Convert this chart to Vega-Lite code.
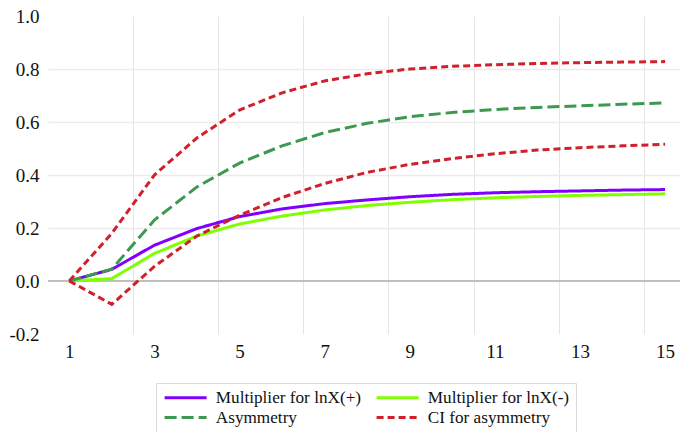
{
  "$schema": "https://vega.github.io/schema/vega-lite/v6.json",
  "width": 632,
  "height": 318,
  "autosize": {"type": "none"},
  "padding": {"left": 48, "top": 16, "right": 0, "bottom": 98},
  "background": "white",
  "config": {
    "view": {"stroke": null},
    "font": "Liberation Serif, Times New Roman, serif",
    "axis": {"labelFont": "Liberation Serif, Times New Roman, serif", "labelColor": "#111111"},
    "legend": {"labelFont": "Liberation Serif, Times New Roman, serif", "labelColor": "#111111"}
  },
  "data": {
    "values": [
      {"x": 1, "v": 0, "s": "Multiplier for lnX(+)", "g": "P"},
      {"x": 2, "v": 0.044, "s": "Multiplier for lnX(+)", "g": "P"},
      {"x": 3, "v": 0.135, "s": "Multiplier for lnX(+)", "g": "P"},
      {"x": 4, "v": 0.198, "s": "Multiplier for lnX(+)", "g": "P"},
      {"x": 5, "v": 0.243, "s": "Multiplier for lnX(+)", "g": "P"},
      {"x": 6, "v": 0.272, "s": "Multiplier for lnX(+)", "g": "P"},
      {"x": 7, "v": 0.292, "s": "Multiplier for lnX(+)", "g": "P"},
      {"x": 8, "v": 0.306, "s": "Multiplier for lnX(+)", "g": "P"},
      {"x": 9, "v": 0.318, "s": "Multiplier for lnX(+)", "g": "P"},
      {"x": 10, "v": 0.327, "s": "Multiplier for lnX(+)", "g": "P"},
      {"x": 11, "v": 0.333, "s": "Multiplier for lnX(+)", "g": "P"},
      {"x": 12, "v": 0.337, "s": "Multiplier for lnX(+)", "g": "P"},
      {"x": 13, "v": 0.340, "s": "Multiplier for lnX(+)", "g": "P"},
      {"x": 14, "v": 0.343, "s": "Multiplier for lnX(+)", "g": "P"},
      {"x": 15, "v": 0.345, "s": "Multiplier for lnX(+)", "g": "P"},
      {"x": 1, "v": 0, "s": "Multiplier for lnX(-)", "g": "L"},
      {"x": 2, "v": 0.009, "s": "Multiplier for lnX(-)", "g": "L"},
      {"x": 3, "v": 0.104, "s": "Multiplier for lnX(-)", "g": "L"},
      {"x": 4, "v": 0.170, "s": "Multiplier for lnX(-)", "g": "L"},
      {"x": 5, "v": 0.215, "s": "Multiplier for lnX(-)", "g": "L"},
      {"x": 6, "v": 0.245, "s": "Multiplier for lnX(-)", "g": "L"},
      {"x": 7, "v": 0.268, "s": "Multiplier for lnX(-)", "g": "L"},
      {"x": 8, "v": 0.285, "s": "Multiplier for lnX(-)", "g": "L"},
      {"x": 9, "v": 0.297, "s": "Multiplier for lnX(-)", "g": "L"},
      {"x": 10, "v": 0.307, "s": "Multiplier for lnX(-)", "g": "L"},
      {"x": 11, "v": 0.314, "s": "Multiplier for lnX(-)", "g": "L"},
      {"x": 12, "v": 0.319, "s": "Multiplier for lnX(-)", "g": "L"},
      {"x": 13, "v": 0.323, "s": "Multiplier for lnX(-)", "g": "L"},
      {"x": 14, "v": 0.326, "s": "Multiplier for lnX(-)", "g": "L"},
      {"x": 15, "v": 0.329, "s": "Multiplier for lnX(-)", "g": "L"},
      {"x": 1, "v": 0, "s": "Asymmetry", "g": "A"},
      {"x": 2, "v": 0.045, "s": "Asymmetry", "g": "A"},
      {"x": 3, "v": 0.230, "s": "Asymmetry", "g": "A"},
      {"x": 4, "v": 0.355, "s": "Asymmetry", "g": "A"},
      {"x": 5, "v": 0.445, "s": "Asymmetry", "g": "A"},
      {"x": 6, "v": 0.510, "s": "Asymmetry", "g": "A"},
      {"x": 7, "v": 0.560, "s": "Asymmetry", "g": "A"},
      {"x": 8, "v": 0.595, "s": "Asymmetry", "g": "A"},
      {"x": 9, "v": 0.620, "s": "Asymmetry", "g": "A"},
      {"x": 10, "v": 0.636, "s": "Asymmetry", "g": "A"},
      {"x": 11, "v": 0.647, "s": "Asymmetry", "g": "A"},
      {"x": 12, "v": 0.655, "s": "Asymmetry", "g": "A"},
      {"x": 13, "v": 0.661, "s": "Asymmetry", "g": "A"},
      {"x": 14, "v": 0.667, "s": "Asymmetry", "g": "A"},
      {"x": 15, "v": 0.672, "s": "Asymmetry", "g": "A"},
      {"x": 1, "v": 0, "s": "CI for asymmetry", "g": "U"},
      {"x": 2, "v": 0.180, "s": "CI for asymmetry", "g": "U"},
      {"x": 3, "v": 0.400, "s": "CI for asymmetry", "g": "U"},
      {"x": 4, "v": 0.540, "s": "CI for asymmetry", "g": "U"},
      {"x": 5, "v": 0.645, "s": "CI for asymmetry", "g": "U"},
      {"x": 6, "v": 0.710, "s": "CI for asymmetry", "g": "U"},
      {"x": 7, "v": 0.755, "s": "CI for asymmetry", "g": "U"},
      {"x": 8, "v": 0.782, "s": "CI for asymmetry", "g": "U"},
      {"x": 9, "v": 0.800, "s": "CI for asymmetry", "g": "U"},
      {"x": 10, "v": 0.810, "s": "CI for asymmetry", "g": "U"},
      {"x": 11, "v": 0.816, "s": "CI for asymmetry", "g": "U"},
      {"x": 12, "v": 0.821, "s": "CI for asymmetry", "g": "U"},
      {"x": 13, "v": 0.824, "s": "CI for asymmetry", "g": "U"},
      {"x": 14, "v": 0.826, "s": "CI for asymmetry", "g": "U"},
      {"x": 15, "v": 0.828, "s": "CI for asymmetry", "g": "U"},
      {"x": 1, "v": 0, "s": "CI for asymmetry", "g": "D"},
      {"x": 2, "v": -0.088, "s": "CI for asymmetry", "g": "D"},
      {"x": 3, "v": 0.055, "s": "CI for asymmetry", "g": "D"},
      {"x": 4, "v": 0.170, "s": "CI for asymmetry", "g": "D"},
      {"x": 5, "v": 0.248, "s": "CI for asymmetry", "g": "D"},
      {"x": 6, "v": 0.315, "s": "CI for asymmetry", "g": "D"},
      {"x": 7, "v": 0.368, "s": "CI for asymmetry", "g": "D"},
      {"x": 8, "v": 0.410, "s": "CI for asymmetry", "g": "D"},
      {"x": 9, "v": 0.440, "s": "CI for asymmetry", "g": "D"},
      {"x": 10, "v": 0.462, "s": "CI for asymmetry", "g": "D"},
      {"x": 11, "v": 0.480, "s": "CI for asymmetry", "g": "D"},
      {"x": 12, "v": 0.494, "s": "CI for asymmetry", "g": "D"},
      {"x": 13, "v": 0.503, "s": "CI for asymmetry", "g": "D"},
      {"x": 14, "v": 0.510, "s": "CI for asymmetry", "g": "D"},
      {"x": 15, "v": 0.516, "s": "CI for asymmetry", "g": "D"}
    ]
  },
  "layer": [
    {
      "mark": {"type": "rule", "color": "#bfbfbf", "strokeWidth": 2},
      "encoding": {"y": {"datum": 0, "type": "quantitative"}}
    },
    {
      "mark": {"type": "line", "strokeWidth": 3, "clip": true},
      "encoding": {
        "x": {
          "field": "x",
          "type": "quantitative",
          "scale": {"domain": [0.5, 15.35], "nice": false, "zero": false},
          "axis": {
            "title": null,
            "values": [1, 2.5, 3, 4.5, 5, 6.5, 7, 8.5, 9, 10.5, 11, 12.5, 13, 14.5, 15],
            "labelExpr": "datum.value % 1 == 0 ? format(datum.value, 'd') : ''",
            "labelFont": "Liberation Serif, Times New Roman, serif",
            "labelFontSize": 19,
            "labelPadding": 8,
            "ticks": false,
            "domain": false,
            "grid": true,
            "gridColor": "#e6e6e6",
            "gridWidth": 1,
            "gridOpacity": {"condition": {"test": "datum.value % 1 == 0", "value": 0}, "value": 1},
            "labelOverlap": false
          }
        },
        "y": {
          "field": "v",
          "type": "quantitative",
          "scale": {"domain": [-0.2, 1.0], "nice": false},
          "axis": {
            "title": null,
            "values": [-0.2, 0, 0.2, 0.4, 0.6, 0.8, 1.0],
            "labelExpr": "(datum.value < 0 ? '-' : '') + format(abs(datum.value), '.1f')",
            "labelFont": "Liberation Serif, Times New Roman, serif",
            "labelFontSize": 19,
            "labelPadding": 9,
            "ticks": false,
            "domain": false,
            "grid": true,
            "gridColor": "#ebebeb",
            "gridWidth": 1.5,
            "gridOpacity": {"condition": {"test": "datum.value > 0.99 || datum.value < -0.19 || datum.value == 0", "value": 0}, "value": 1},
            "labelOverlap": false
          }
        },
        "color": {
          "field": "s",
          "type": "nominal",
          "scale": {
            "domain": ["Multiplier for lnX(+)", "Multiplier for lnX(-)", "Asymmetry", "CI for asymmetry"],
            "range": ["#7f00ff", "#80ff00", "#3d9950", "#d0202c"]
          },
          "legend": {
            "title": null,
            "orient": "none",
            "legendX": 108,
            "legendY": 367,
            "direction": "horizontal",
            "columns": 2,
            "symbolType": "M0,0H10",
            "symbolSize": 70.6,
            "symbolStrokeWidth": 3,
            "labelFont": "Liberation Serif, Times New Roman, serif",
            "labelFontSize": 17.2,
            "labelOffset": 42.6,
            "columnPadding": 8,
            "rowPadding": 2,
            "padding": 6,
            "symbolOffset": -6,
            "strokeColor": "#d9d9d9",
            "labelLimit": 400
          }
        },
        "strokeDash": {
          "field": "s",
          "type": "nominal",
          "scale": {
            "domain": ["Multiplier for lnX(+)", "Multiplier for lnX(-)", "Asymmetry", "CI for asymmetry"],
            "range": [[1, 0], [1, 0], [12, 5], [7, 4]]
          },
          "legend": null
        },
        "detail": {"field": "g", "type": "nominal"}
      }
    }
  ]
}
